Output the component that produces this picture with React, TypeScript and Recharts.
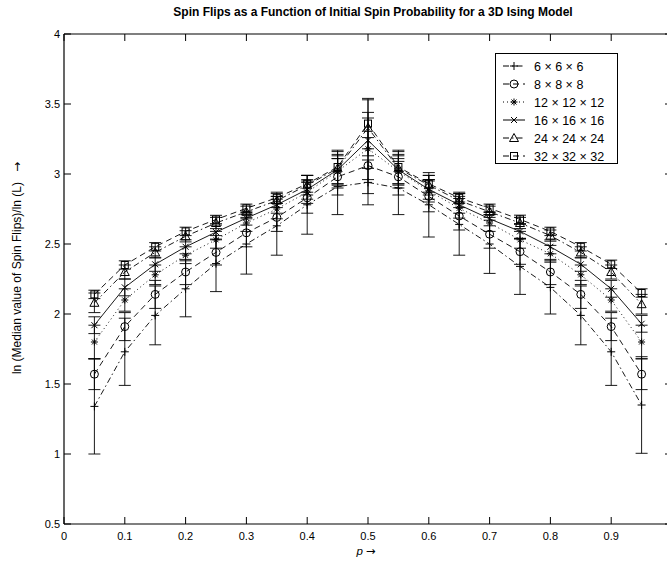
import React from "react"
import { LineChart, Line, XAxis, YAxis, ErrorBar } from "recharts"

// initial spin probability p
const pValues = [0.05, 0.1, 0.15, 0.2, 0.25, 0.3, 0.35, 0.4, 0.45, 0.5, 0.55, 0.6, 0.65, 0.7, 0.75, 0.8, 0.85, 0.9, 0.95]
const xTicks = [0, 0.1, 0.2, 0.3, 0.4, 0.5, 0.6, 0.7, 0.8, 0.9, 1]
const yTicks = [0.5, 1, 1.5, 2, 2.5, 3, 3.5, 4]

// ln(median spin flips)/ln(L), one list per lattice size
const l6 = [1.34, 1.73, 1.99, 2.18, 2.36, 2.5, 2.63, 2.78, 2.91, 2.94, 2.9, 2.78, 2.64, 2.5, 2.34, 2.19, 1.99, 1.73, 1.35]
const l8 = [1.57, 1.91, 2.14, 2.3, 2.44, 2.58, 2.69, 2.83, 2.98, 3.06, 2.98, 2.84, 2.7, 2.57, 2.445, 2.3, 2.14, 1.91, 1.57]
const l12 = [1.8, 2.1, 2.28, 2.42, 2.53, 2.65, 2.75, 2.87, 3.02, 3.18, 3.02, 2.88, 2.755, 2.65, 2.53, 2.43, 2.28, 2.1, 1.8]
const l16 = [1.92, 2.19, 2.355, 2.48, 2.585, 2.685, 2.78, 2.89, 3.03, 3.24, 3.03, 2.89, 2.78, 2.68, 2.59, 2.48, 2.355, 2.18, 1.93]
const l24 = [2.08, 2.3, 2.44, 2.555, 2.65, 2.73, 2.81, 2.92, 3.04, 3.33, 3.04, 2.92, 2.81, 2.73, 2.65, 2.56, 2.44, 2.3, 2.07]
const l32 = [2.14, 2.35, 2.48, 2.59, 2.675, 2.755, 2.83, 2.93, 3.05, 3.36, 3.05, 2.93, 2.83, 2.755, 2.676, 2.59, 2.48, 2.355, 2.15]

// error bar half-lengths
const err6 = [0.34, 0.24, 0.21, 0.2, 0.2, 0.215, 0.21, 0.21, 0.2, 0.16, 0.19, 0.23, 0.22, 0.21, 0.2, 0.19, 0.21, 0.24, 0.345]
const err8 = [0.11, 0.1, 0.1, 0.09, 0.09, 0.1, 0.1, 0.11, 0.13, 0.2, 0.13, 0.11, 0.1, 0.1, 0.09, 0.09, 0.1, 0.1, 0.11]
const err12 = [0.12, 0.08, 0.07, 0.06, 0.06, 0.06, 0.07, 0.08, 0.12, 0.22, 0.12, 0.08, 0.07, 0.06, 0.06, 0.06, 0.07, 0.08, 0.12]
const err16 = [0.06, 0.06, 0.05, 0.05, 0.05, 0.05, 0.06, 0.07, 0.1, 0.2, 0.1, 0.07, 0.06, 0.05, 0.05, 0.05, 0.05, 0.06, 0.06]
const err24 = [0.07, 0.05, 0.04, 0.04, 0.04, 0.04, 0.05, 0.07, 0.12, 0.2, 0.12, 0.07, 0.05, 0.04, 0.04, 0.04, 0.04, 0.05, 0.07]
const err32 = [0.03, 0.03, 0.03, 0.03, 0.03, 0.03, 0.04, 0.06, 0.12, 0.18, 0.12, 0.06, 0.04, 0.03, 0.03, 0.03, 0.03, 0.03, 0.03]

const sizeLabels = ["6 × 6 × 6", "8 × 8 × 8", "12 × 12 × 12", "16 × 16 × 16", "24 × 24 × 24", "32 × 32 × 32"]

const rows = pValues.map((p, i) => ({
  p,
  s6: l6[i], s8: l8[i], s12: l12[i], s16: l16[i], s24: l24[i], s32: l32[i],
  e6: err6[i], e8: err8[i], e12: err12[i], e16: err16[i], e24: err24[i], e32: err32[i],
}))

const DASHDOT = "6 3 1.5 3"
const DASHED = "6 4"
const DOTTED = "1 3"

const seriesMeta = [
  { key: "s6", err: "e6", marker: "plus", dash: DASHDOT },
  { key: "s8", err: "e8", marker: "circle", dash: DASHED },
  { key: "s12", err: "e12", marker: "star", dash: DOTTED },
  { key: "s16", err: "e16", marker: "cross", dash: undefined },
  { key: "s24", err: "e24", marker: "triangle", dash: DASHDOT },
  { key: "s32", err: "e32", marker: "square", dash: DASHED },
]

const FONT = "'Liberation Sans', Arial, Helvetica, sans-serif"
const ARROW_FONT = "'DejaVu Sans', sans-serif"

function Marker({ kind, cx, cy }: { kind: string; cx: number; cy: number }) {
  const st = { stroke: "#000", strokeWidth: 1, fill: "none" }
  if (kind === "plus") {
    return (
      <g {...st}>
        <line x1={cx - 4} y1={cy} x2={cx + 4} y2={cy} />
        <line x1={cx} y1={cy - 4} x2={cx} y2={cy + 4} />
      </g>
    )
  }
  if (kind === "circle") return <circle cx={cx} cy={cy} r={4} {...st} />
  if (kind === "cross") {
    return (
      <g {...st}>
        <line x1={cx - 3} y1={cy - 3} x2={cx + 3} y2={cy + 3} />
        <line x1={cx - 3} y1={cy + 3} x2={cx + 3} y2={cy - 3} />
      </g>
    )
  }
  if (kind === "star") {
    return (
      <g {...st}>
        <line x1={cx - 3.5} y1={cy} x2={cx + 3.5} y2={cy} />
        <line x1={cx} y1={cy - 3.5} x2={cx} y2={cy + 3.5} />
        <line x1={cx - 2.5} y1={cy - 2.5} x2={cx + 2.5} y2={cy + 2.5} />
        <line x1={cx - 2.5} y1={cy + 2.5} x2={cx + 2.5} y2={cy - 2.5} />
      </g>
    )
  }
  if (kind === "triangle") {
    return <polygon points={`${cx},${cy - 4.5} ${cx - 4.5},${cy + 3.5} ${cx + 4.5},${cy + 3.5}`} {...st} />
  }
  return <rect x={cx - 3.5} y={cy - 3.5} width={7} height={7} {...st} />
}

const BottomTick = ({ x, y, payload }: any) => (
  <g>
    <line x1={x} y1={y} x2={x} y2={y - 7} stroke="#000" />
    {payload.value < 0.95 && (
      <text x={x} y={y + 16} textAnchor="middle" fontSize={11} fontFamily={FONT} fill="#000">
        {String(payload.value)}
      </text>
    )}
  </g>
)

const TopTick = ({ x, y }: any) => <line x1={x} y1={y} x2={x} y2={y + 7} stroke="#000" />

const LeftTick = ({ x, y, payload }: any) => (
  <g>
    <line x1={x} y1={y} x2={x + 7} y2={y} stroke="#000" />
    <text x={x - 4} y={y + 4} textAnchor="end" fontSize={11} fontFamily={FONT} fill="#000">
      {String(payload.value)}
    </text>
  </g>
)

const RightTick = ({ x, y }: any) => <line x1={x} y1={y} x2={x - 7} y2={y} stroke="#000" />

function LegendBox() {
  return (
    <div
      style={{
        position: "absolute", left: 495, top: 53, width: 121, height: 109,
        border: "1px solid #000", background: "#fff",
      }}
    >
      <svg width={121} height={109} style={{ position: "absolute", left: 0, top: 0 }}>
        {seriesMeta.map((m, i) => {
          const cy = 12 + i * 18
          return (
            <g key={m.key}>
              <line x1={7} y1={cy} x2={29} y2={cy} stroke="#000" strokeWidth={1} strokeDasharray={m.dash} />
              <Marker kind={m.marker} cx={18} cy={cy} />
              <text x={38} y={cy + 4.5} fontSize={12.5} fontFamily={FONT} fill="#000">{sizeLabels[i]}</text>
            </g>
          )
        })}
      </svg>
    </div>
  )
}

export default function App() {
  return (
    <div
      style={{
        position: "fixed", left: 0, top: 0, width: 667, height: 568,
        overflow: "hidden", background: "#fff", fontFamily: FONT,
      }}
    >
      <div
        style={{
          position: "absolute", left: 373, top: 5, transform: "translateX(-50%)",
          whiteSpace: "nowrap", fontWeight: "bold", fontSize: 12,
        }}
      >
        Spin Flips as a Function of Initial Spin Probability for a 3D Ising Model
      </div>
      <LineChart
        width={700}
        height={568}
        data={rows}
        margin={{ top: 24, right: 18, bottom: 24, left: 44 }}
        style={{ position: "absolute", left: 0, top: 0 }}
      >
        <XAxis
          dataKey="p" type="number" domain={[0, 1]} ticks={xTicks} height={20}
          tick={<BottomTick />} tickLine={false} tickSize={0} tickMargin={0}
          axisLine={{ stroke: "#000", strokeWidth: 1.2 }} interval={0} allowDataOverflow
        />
        <XAxis
          xAxisId="top" orientation="top" dataKey="p" type="number" domain={[0, 1]} ticks={xTicks} height={10}
          tick={<TopTick />} tickLine={false} tickSize={0} tickMargin={0}
          axisLine={{ stroke: "#000", strokeWidth: 1.2 }} interval={0} allowDataOverflow
        />
        <YAxis
          type="number" domain={[0.5, 4]} ticks={yTicks} width={20}
          tick={<LeftTick />} tickLine={false} tickSize={0} tickMargin={0}
          axisLine={{ stroke: "#000", strokeWidth: 1.2 }} interval={0} allowDataOverflow
        />
        <YAxis
          yAxisId="right" orientation="right" type="number" domain={[0.5, 4]} ticks={yTicks} width={10}
          tick={<RightTick />} tickLine={false} tickSize={0} tickMargin={0}
          axisLine={{ stroke: "#000", strokeWidth: 1.2 }} interval={0} allowDataOverflow
        />
        {seriesMeta.map((m) => (
          <Line
            key={m.key}
            dataKey={m.key}
            type="linear"
            stroke="#000"
            strokeWidth={0.9}
            strokeDasharray={m.dash}
            isAnimationActive={false}
            activeDot={false}
            dot={(props: any) => (
              <Marker key={`${m.key}-${props.index}`} kind={m.marker} cx={props.cx} cy={props.cy} />
            )}
          >
            <ErrorBar dataKey={m.err} width={6} stroke="#000" strokeWidth={0.9} direction="y" isAnimationActive={false} />
          </Line>
        ))}
      </LineChart>
      <LegendBox />
      <div
        style={{
          position: "absolute", left: 366, top: 544, transform: "translateX(-50%)",
          fontSize: 11.5, lineHeight: "14px", whiteSpace: "nowrap",
        }}
      >
        <i>p</i> <span style={{ fontFamily: ARROW_FONT }}>→</span>
      </div>
      <div
        style={{
          position: "absolute", left: 17, top: 268, transform: "translate(-50%, -50%) rotate(-90deg)",
          fontSize: 12, whiteSpace: "nowrap",
        }}
      >
        ln (Median value of Spin Flips)/ln (L) &nbsp;&nbsp;<span style={{ fontFamily: ARROW_FONT }}>→</span>
      </div>
    </div>
  )
}
